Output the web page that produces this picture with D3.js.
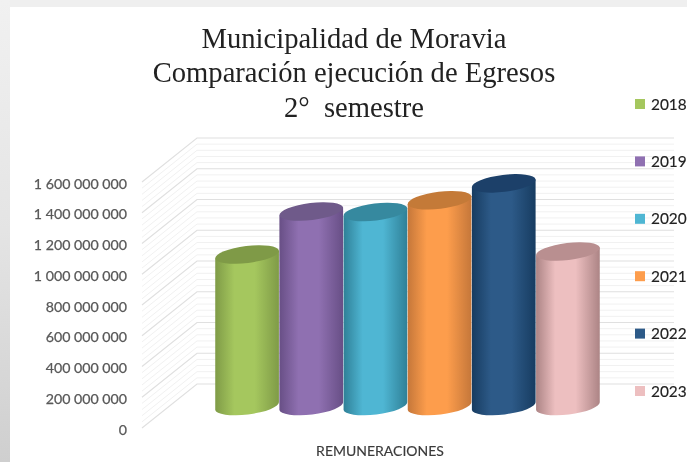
<!DOCTYPE html>
<html><head><meta charset="utf-8">
<script src="https://cdn.jsdelivr.net/npm/d3@7"></script>
<style>html,body{margin:0;padding:0;background:#fff}svg{display:block;filter:blur(0.35px)}</style>
</head><body><div id="c"></div>
<script>
const titleLines = ["Municipalidad de Moravia", "Comparación ejecución de Egresos", "2°  semestre"];
const years = ["2018","2019","2020","2021","2022","2023"];
const values = [985000000,1265000000,1262000000,1338000000,1448000000,1005000000];
const category = "REMUNERACIONES";
const colors = ["#a5c75e","#8f70b1","#4fb6d3","#fd9d4c","#2d5a88","#edbfc0"];
const edgeColors = ["#7f9b47","#684f86","#2f8097","#c5773a","#173c61","#ac8485"];
const topColors = ["#7f9a47","#6f5a8a","#36899f","#c47a38","#1c4069","#b98f90"];
const tickValues = d3.range(0,1600000001,200000000);
const minorValues = d3.range(0,1600000001,40000000);

const W=687,H=462;
const svg=d3.select("#c").append("svg").attr("width",W).attr("height",H);
const defs=svg.append("defs");

const edge=defs.append("linearGradient").attr("id","strip").attr("x1",0).attr("x2",0).attr("y1",0).attr("y2",1);
edge.append("stop").attr("offset","0").attr("stop-color","#f1f1f1");
edge.append("stop").attr("offset","0.5").attr("stop-color","#e4e4e4");
edge.append("stop").attr("offset","1").attr("stop-color","#cfcfcf");
svg.append("rect").attr("width",W).attr("height",H).attr("fill","#fff");
svg.append("rect").attr("x",0).attr("y",0).attr("width",W).attr("height",7).attr("fill","#efefef");
svg.append("rect").attr("x",0).attr("y",0).attr("width",10).attr("height",H).attr("fill","url(#strip)");

const y=d3.scaleLinear().domain([0,1600000000]).range([428,182]);
const depth={x:55,y:-44};
const wallRight=674;
const x=d3.scaleBand().domain(years).range([215,600]).padding(0);

// grid
const g=svg.append("g").attr("fill","none");
const gridPath=v=>{const p=d3.path();p.moveTo(142,y(v));p.lineTo(142+depth.x,y(v)+depth.y);p.lineTo(wallRight,y(v)+depth.y);return p.toString();};
g.selectAll(".mi").data(minorValues.filter(v=>!tickValues.includes(v))).join("path")
 .attr("d",gridPath).attr("stroke","#f1f1f1").attr("stroke-width",1);
g.selectAll(".ma").data(tickValues).join("path")
 .attr("d",gridPath).attr("stroke","#e0e0e0").attr("stroke-width",1.2);

// axis
const fmt=d3.formatLocale({decimal:",",thousands:" ",grouping:[3],currency:["",""]}).format(",d");
const ax=svg.append("g").attr("transform","translate(127,1.5)")
 .call(d3.axisLeft(y).tickValues(tickValues).tickFormat(fmt).tickSize(0).tickPadding(0));
ax.select(".domain").remove();
ax.selectAll("text").attr("font-family","Lato").attr("font-size",14.2).attr("fill","#595959")
 .attr("stroke","#595959").attr("stroke-width",0.25);

// cylinders
const rx=x.bandwidth()/2, ry=8.5, rot=-7, t=rot*Math.PI/180;
const y0=y(0)+depth.y/2;
const ybar=v=>y(v)+depth.y/2;
years.forEach((yr,i)=>{
  const gr=defs.append("linearGradient").attr("id","cyl"+i);
  gr.append("stop").attr("offset","0").attr("stop-color",edgeColors[i]);
  gr.append("stop").attr("offset","0.3").attr("stop-color",colors[i]);
  gr.append("stop").attr("offset","0.62").attr("stop-color",colors[i]);
  gr.append("stop").attr("offset","1").attr("stop-color",edgeColors[i]);
});
const bars=svg.selectAll(".bar").data(years.map((yr,i)=>({yr,v:values[i],i}))).join("g").attr("class","bar");
bars.append("path").attr("fill",d=>`url(#cyl${d.i})`).attr("d",d=>{
  const cx=x(d.yr)+rx, dx=rx*Math.cos(t), dy=rx*Math.sin(t), yt=ybar(d.v);
  return `M${cx-dx},${yt-dy} L${cx-dx},${y0-dy} A${rx},${ry} ${rot} 0 0 ${cx+dx},${y0+dy} L${cx+dx},${yt+dy} Z`;
});
bars.append("ellipse").attr("fill",d=>topColors[d.i])
 .attr("rx",rx).attr("ry",ry)
 .attr("transform",d=>`translate(${x(d.yr)+rx},${ybar(d.v)}) rotate(${rot})`);

// category
svg.append("text").attr("x",380).attr("y",456).attr("text-anchor","middle")
 .attr("font-family","Lato").attr("font-size",14).attr("fill","#3a3a3a").attr("stroke","#3a3a3a").attr("stroke-width",0.15).text(category);

// title
svg.append("g").selectAll("text").data(titleLines).join("text")
 .attr("x",354).attr("y",(d,i)=>[48,82,117][i]).attr("text-anchor","middle")
 .style("white-space","pre")
 .attr("font-family","Liberation Serif").attr("font-size",28.6).attr("fill","#222").text(d=>d);

// legend
const ly=d3.scalePoint().domain(years).range([104,391]);
const lg=svg.selectAll(".lg").data(years).join("g").attr("class","lg");
lg.append("rect").attr("x",635).attr("y",d=>ly(d)-5).attr("width",10).attr("height",10)
 .attr("fill",(d,i)=>colors[i]);
lg.append("text").attr("x",651).attr("y",d=>ly(d)+5.5)
 .attr("font-family","Lato").attr("font-size",15.4).attr("fill","#222").attr("stroke","#222").attr("stroke-width",0.15).text(d=>d);
</script></body></html>
